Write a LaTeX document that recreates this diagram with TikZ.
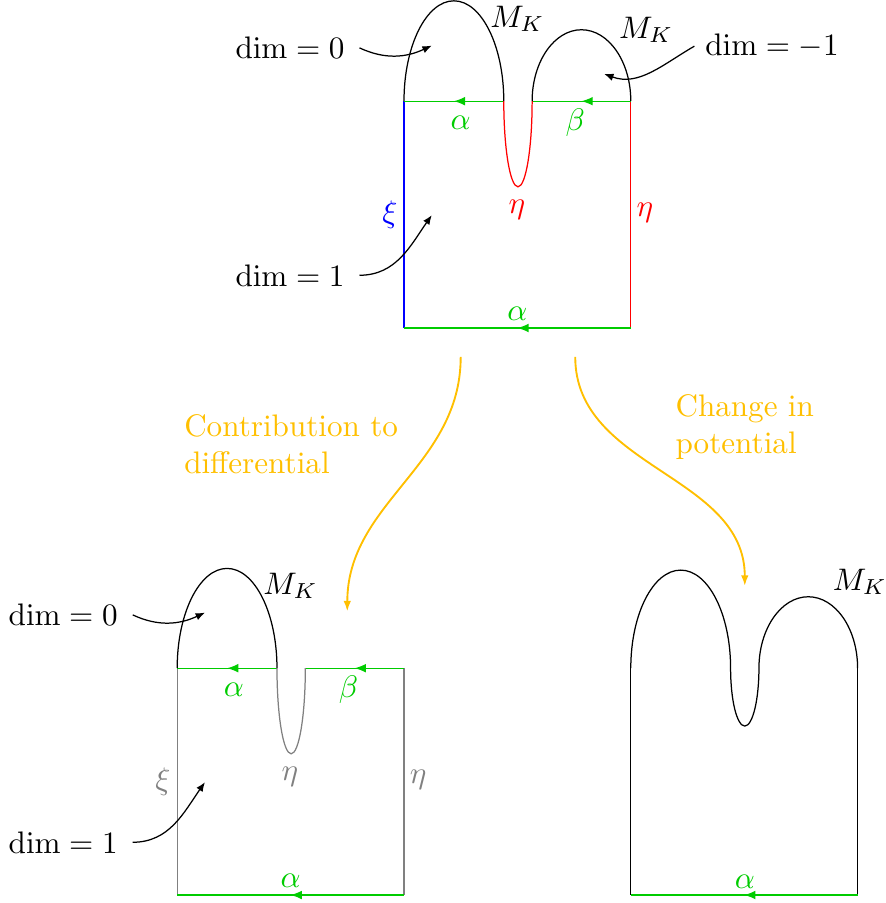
\documentclass[tikz,border=0pt]{standalone}
\usepackage{amsmath, amssymb}
\usepackage{tikz}
\usetikzlibrary{arrows.meta, decorations.markings}
\usepackage{xcolor}
\definecolor{edgeG}{RGB}{0, 204, 0}
\definecolor{flowY}{RGB}{255, 191, 0}

\tikzset{
  gedge/.style={edgeG, postaction={decorate},
    decoration={markings, mark=at position 0.5 with {\arrow{Latex[length=3.6pt,width=2.8pt]}}}},
  dimarrow/.style={black, -{Latex[length=3pt,width=2.4pt]}},
  flow/.style={flowY, semithick, -{Latex[length=3.4pt,width=2.4pt]}},
}

\begin{document}
\begin{tikzpicture}[scale=0.64]
  \useasboundingbox (-7.125,-10.141) rectangle (8.50,5.785);
  \draw[blue] (0,0) -- (0,4);
  \draw[red] (4,0) -- (4,4);
  \draw[gedge] (4,0) -- (0,0);
  \draw[gedge] (1.76,4) -- (0,4);
  \draw[gedge] (4,4) -- (2.26,4);
  \draw[red] (1.76,4) arc[start angle=180, end angle=360, x radius=0.25, y radius=1.51];
  \draw (0,4) arc[start angle=180, end angle=0, x radius=0.88, y radius=1.77];
  \draw (2.26,4) arc[start angle=180, end angle=0, x radius=0.87, y radius=1.26];
  \node[edgeG] (ta1) at (1.0,3.62) {$\alpha$};
  \node[edgeG] (tb) at (3.02,3.62) {$\beta$};
  \node[edgeG] (ta2) at (2.0,0.25) {$\alpha$};
  \node[blue] (txi) at (-0.25,1.99) {$\xi$};
  \node[red] (te1) at (1.99,2.08) {$\eta$};
  \node[red] (te2) at (4.25,2.03) {$\eta$};
  \node (tm1) at (2.0,5.45) {$M_K$};
  \node (tm2) at (4.27,5.26) {$M_K$};
  \node (td0) at (-2.01,4.94) {$\dim = 0$};
  \node (tdm) at (6.49,4.97) {$\dim = -1$};
  \node (td1) at (-2.01,0.93) {$\dim = 1$};
  \coordinate (tp0) at (0.49,4.98);
  \coordinate (tpm) at (3.53,4.48);
  \coordinate (tp1) at (0.49,1.99);
  \draw[dimarrow] ([xshift=2pt]td0.east) to[out=-25,in=205] (tp0);
  \draw[dimarrow] (tdm.west) to[out=210,in=-20] (tpm);
  \draw[dimarrow] ([xshift=2pt]td1.east) to[out=0,in=235] (tp1);

  \coordinate (fl0) at (1.0,-0.51);
  \coordinate (fl1) at (-1.0,-5.0);
  \coordinate (fr0) at (3.02,-0.51);
  \coordinate (fr1) at (6.01,-4.55);
  \draw[flow] (fl0) to[out=-90,in=90] (fl1);
  \draw[flow] (fr0) to[out=-90,in=90] (fr1);
  \node[flowY, align=left] (contrib) at (-1.99,-2.05) {Contribution to\\differential};
  \node[flowY, align=left] (change) at (6.01,-1.75) {Change in\\potential};

  \begin{scope}[shift={(-4,-10)}]
    \draw[gray] (0,0) -- (0,4);
    \draw[gray] (4,0) -- (4,4);
    \draw[gedge] (4,0) -- (0,0);
    \draw[gedge] (1.76,4) -- (0,4);
    \draw[gedge] (4,4) -- (2.26,4);
    \draw[gray] (1.76,4) arc[start angle=180, end angle=360, x radius=0.25, y radius=1.51];
    \draw (0,4) arc[start angle=180, end angle=0, x radius=0.88, y radius=1.76];
    \node[edgeG] (la1) at (1.0,3.62) {$\alpha$};
    \node[edgeG] (lb) at (3.02,3.62) {$\beta$};
    \node[edgeG] (la2) at (2.0,0.25) {$\alpha$};
    \node[gray] (lxi) at (-0.25,1.99) {$\xi$};
    \node[gray] (le1) at (1.99,2.08) {$\eta$};
    \node[gray] (le2) at (4.25,2.03) {$\eta$};
    \node (lm1) at (2.0,5.45) {$M_K$};
    \node (ld0) at (-2.01,4.94) {$\dim = 0$};
    \node (ld1) at (-2.01,0.93) {$\dim = 1$};
    \coordinate (lp0) at (0.49,4.98);
    \coordinate (lp1) at (0.49,1.99);
    \draw[dimarrow] ([xshift=2pt]ld0.east) to[out=-25,in=205] (lp0);
    \draw[dimarrow] ([xshift=2pt]ld1.east) to[out=0,in=235] (lp1);
  \end{scope}

  \begin{scope}[shift={(4,-10)}]
    \draw (0,4) -- (0,0);
    \draw (4,0) -- (4,4);
    \draw[gedge] (4,0) -- (0,0);
    \draw (0,4) arc[start angle=180, end angle=0, x radius=0.88, y radius=1.73]
      arc[start angle=180, end angle=360, x radius=0.25, y radius=1.02]
      arc[start angle=180, end angle=0, x radius=0.87, y radius=1.26];
    \node[edgeG] (ra) at (2.01,0.23) {$\alpha$};
    \node (rm) at (4.04,5.52) {$M_K$};
  \end{scope}
\end{tikzpicture}
\end{document}
